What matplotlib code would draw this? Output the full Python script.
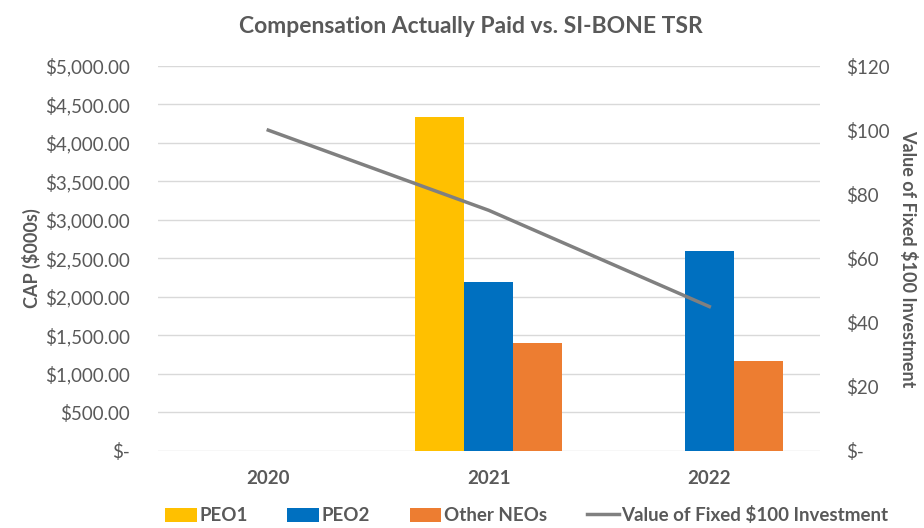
import numpy as np
import matplotlib
matplotlib.use('Agg')
import matplotlib.pyplot as plt
from matplotlib.ticker import FuncFormatter

plt.rcParams['font.family'] = ['Lato', 'DejaVu Sans']

years = ['2020', '2021', '2022']
peo1 = [np.nan, 4343, np.nan]
peo2 = [np.nan, 2195, 2600]
other_neos = [np.nan, 1405, 1170]
tsr = [100, 75, 45]

grey = '#595959'
x = np.arange(len(years))
w = 0.222

fig = plt.figure(figsize=(9.24, 5.28), dpi=100)
ax = fig.add_axes([0.171, 0.146, 0.716, 0.729])
ax.bar(x - w, peo1, w, color='#FFC000', label='PEO1', zorder=2)
ax.bar(x, peo2, w, color='#0070C0', label='PEO2', zorder=2)
ax.bar(x + w, other_neos, w, color='#ED7D31', label='Other NEOs', zorder=2)
ax.set_xlim(-0.5, 2.5)
ax.set_ylim(0, 5000)
ax.set_yticks(np.arange(0, 5001, 500))
ax.yaxis.set_major_formatter(FuncFormatter(lambda v, p: '$-' if v == 0 else f'${v:,.2f}'))
ax.grid(axis='y', color='#d9d9d9', linewidth=1, zorder=0)
ax.set_axisbelow(True)
ax.set_xticks(x)
ax.set_xticklabels(years, fontweight='bold', fontsize=13.5, color=grey)
ax.tick_params(axis='y', length=0, labelsize=13.5, labelcolor=grey, pad=20)
ax.tick_params(axis='x', length=0, pad=14)
for s in ax.spines.values():
    s.set_visible(False)
ax.set_ylabel('CAP ($000s)', fontweight='bold', fontsize=13, color=grey, labelpad=3)

ax2 = ax.twinx()
ax2.plot(x, tsr, color='#808080', linewidth=2.5, label='Value of Fixed $100 Investment', zorder=3)
ax2.set_ylim(0, 120)
ax2.set_yticks(np.arange(0, 121, 20))
ax2.yaxis.set_major_formatter(FuncFormatter(lambda v, p: '$-' if v == 0 else f'${v:.0f}'))
ax2.tick_params(axis='y', length=0, labelsize=13.5, labelcolor=grey, pad=19)
for s in ax2.spines.values():
    s.set_visible(False)
ax2.set_ylabel('Value of Fixed $100 Investment', fontweight='bold', fontsize=13, color=grey,
               rotation=-90, labelpad=20)

fig.suptitle('Compensation Actually Paid vs. SI-BONE TSR', fontweight='bold', fontsize=16.5,
             color=grey, x=0.51, y=0.97)

h1, l1 = ax.get_legend_handles_labels()
h2, l2 = ax2.get_legend_handles_labels()
leg = fig.legend(h1 + h2, l1 + l2, loc='lower center', ncol=4, frameon=False,
                 bbox_to_anchor=(0.57, -0.025), fontsize=13.5, handlelength=1.7,
                 handleheight=0.8, handletextpad=0.15, columnspacing=2.1)
for t in leg.get_texts():
    t.set_color(grey)
    t.set_fontweight('bold')

fig.savefig('out.png', dpi=100)
